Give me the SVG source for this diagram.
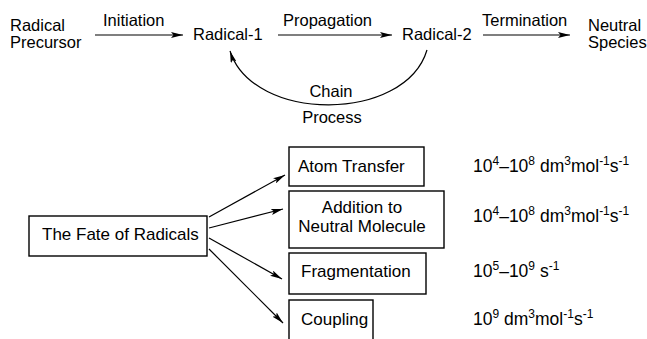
<svg xmlns="http://www.w3.org/2000/svg" width="647" height="339" viewBox="0 0 647 339">
<defs>
<style>
text{font-family:"Liberation Sans",Arial,sans-serif;fill:#000}
.t{font-size:16.5px}
.b{font-size:17px}
.r{font-size:17.5px}
.s{font-size:12px}
.mid{text-anchor:middle}
.ln{stroke:#000;stroke-width:1.2;fill:none}
.box{stroke:#000;stroke-width:1.4;fill:#fff}
</style>
<marker id="ah" viewBox="0 0 12 6" refX="12" refY="3" markerWidth="12" markerHeight="6" markerUnits="userSpaceOnUse" orient="auto">
<path d="M0,0 L12,3 L0,6 L2.5,3 Z" fill="#000"/>
</marker>
</defs>
<rect width="647" height="339" fill="#fff"/>

<g id="precursor"><text class="t" x="10" y="31">Radical</text><text class="t" x="10" y="48">Precursor</text></g>
<g id="radical1"><text class="t" x="193" y="40">Radical-1</text></g>
<g id="radical2"><text class="t" x="402" y="40">Radical-2</text></g>
<g id="neutral"><text class="t" x="588" y="31">Neutral</text><text class="t" x="588" y="48">Species</text></g>

<g id="connectors">
<line class="ln" x1="95" y1="35" x2="183" y2="35" marker-end="url(#ah)"/>
<line class="ln" x1="278" y1="35" x2="392" y2="35" marker-end="url(#ah)"/>
<line class="ln" x1="483" y1="35" x2="570" y2="35" marker-end="url(#ah)"/>
<path class="ln" d="M427,50 C405,123 253,123 230,51" marker-end="url(#ah)"/>
<line class="ln" x1="209" y1="217" x2="285" y2="175" marker-end="url(#ah)"/>
<line class="ln" x1="209" y1="228" x2="283" y2="209" marker-end="url(#ah)"/>
<line class="ln" x1="209" y1="238" x2="282" y2="279" marker-end="url(#ah)"/>
<line class="ln" x1="209" y1="249" x2="283" y2="323" marker-end="url(#ah)"/>
<text class="t" x="103" y="26">Initiation</text>
<text class="t" x="283" y="26">Propagation</text>
<text class="t" x="482" y="26">Termination</text>
<text class="t mid" x="331" y="97">Chain</text>
<text class="t mid" x="332" y="123">Process</text>
</g>

<g id="fate"><rect class="box" x="29" y="216" width="178" height="40"/><text class="b" x="42" y="240">The Fate of Radicals</text></g>
<g id="atom"><rect class="box" x="289" y="147" width="135" height="39"/><text class="b" x="298" y="172">Atom Transfer</text></g>
<g id="addition"><rect class="box" x="289" y="191" width="155" height="57"/><text class="b mid" x="362" y="213">Addition to</text><text class="b mid" x="362" y="232">Neutral Molecule</text></g>
<g id="fragmentation"><rect class="box" x="289" y="253" width="137" height="41"/><text class="b" x="301" y="277">Fragmentation</text></g>
<g id="coupling"><rect class="box" x="289" y="300" width="84" height="60"/><text class="b" x="301" y="325">Coupling</text></g>

<g id="rates">
<text class="r" x="473" y="172">10<tspan class="s" dy="-7">4</tspan><tspan dy="7">–10</tspan><tspan class="s" dy="-7">8</tspan><tspan dy="7"> dm</tspan><tspan class="s" dy="-7">3</tspan><tspan dy="7">mol</tspan><tspan class="s" dy="-7">-1</tspan><tspan dy="7">s</tspan><tspan class="s" dy="-7">-1</tspan></text>
<text class="r" x="473" y="222">10<tspan class="s" dy="-7">4</tspan><tspan dy="7">–10</tspan><tspan class="s" dy="-7">8</tspan><tspan dy="7"> dm</tspan><tspan class="s" dy="-7">3</tspan><tspan dy="7">mol</tspan><tspan class="s" dy="-7">-1</tspan><tspan dy="7">s</tspan><tspan class="s" dy="-7">-1</tspan></text>
<text class="r" x="473" y="277">10<tspan class="s" dy="-7">5</tspan><tspan dy="7">–10</tspan><tspan class="s" dy="-7">9</tspan><tspan dy="7"> s</tspan><tspan class="s" dy="-7">-1</tspan></text>
<text class="r" x="473" y="325">10<tspan class="s" dy="-7">9</tspan><tspan dy="7"> dm</tspan><tspan class="s" dy="-7">3</tspan><tspan dy="7">mol</tspan><tspan class="s" dy="-7">-1</tspan><tspan dy="7">s</tspan><tspan class="s" dy="-7">-1</tspan></text>
</g>
</svg>
